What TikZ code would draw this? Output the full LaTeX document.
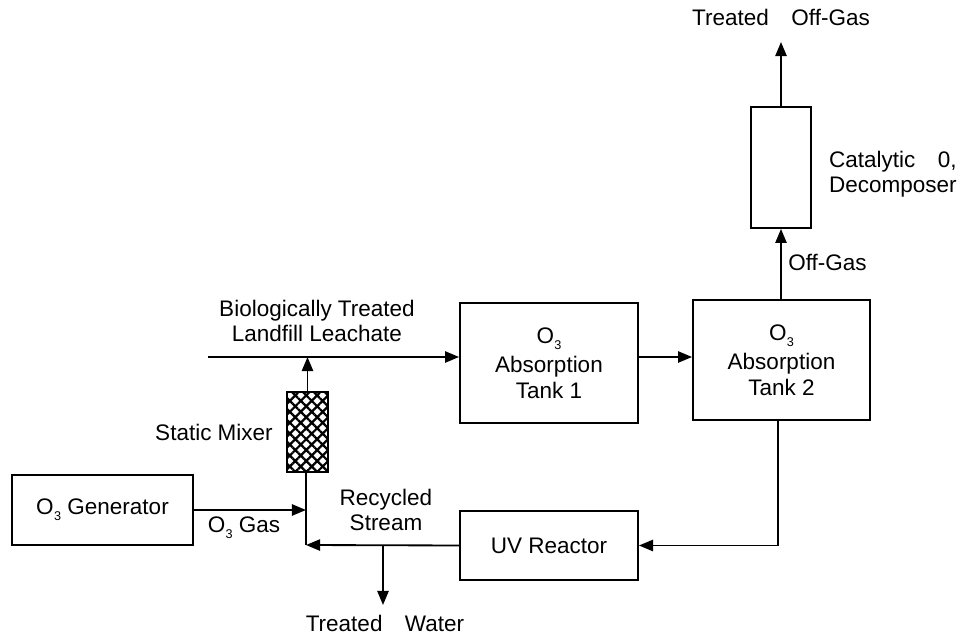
\documentclass[tikz,border=0pt]{standalone}
\usepackage{fontspec}
\setmainfont{Liberation Sans}
\usetikzlibrary{arrows.meta,patterns.meta,positioning}

\newcommand{\Othree}{O\kern0.3pt\raisebox{-0.5ex}{\fontsize{9}{9}\selectfont 3}}

\tikzset{
  unit/.style={draw, line width=1.3pt, align=center, inner sep=0pt},
  flow/.style={line width=1.3pt, -{Triangle[length=10pt,width=8pt]}},
  pipe/.style={line width=1.3pt},
  lbl/.style={align=center, inner sep=0pt}
}

\begin{document}
\begin{tikzpicture}[x=0.025cm,y=-0.025cm,
    every node/.style={font=\fontsize{16}{18}\selectfont}]
    \useasboundingbox (0,0) rectangle (961,636);

    % units
    \node[unit, minimum width=4.525cm, minimum height=1.75cm] (gen) at (102.5,510) {\Othree\ Generator};
    \node[unit, minimum width=1.025cm, minimum height=2cm,
          pattern={Hatch[angle=45,distance=5.5pt,line width=1.6pt]}] (mixer) at (307.5,432) {};
    \node[unit, minimum width=4.45cm, minimum height=3cm] (tank1) at (549,363) {\Othree\\[3pt]Absorption\\Tank 1};
    \node[unit, minimum width=4.425cm, minimum height=3cm] (tank2) at (781.5,360) {\Othree\\[3pt]Absorption\\Tank 2};
    \node[unit, minimum width=1.5cm, minimum height=3.025cm] (decomp) at (781,167.5) {};
    \node[unit, minimum width=4.45cm, minimum height=1.725cm] (uv) at (549,545.5) {UV Reactor};

    \coordinate (feed) at (208,357);
    \coordinate (join) at (307.5,357);
    \coordinate (gasin) at (306,510);
    \coordinate (mix) at (306,545);
    \coordinate (tap) at (383,545);
    \coordinate (water) at (383,605);
    \coordinate (vent) at (781,42);

    % streams
    \draw[flow] (feed) -- (feed -| tank1.west);
    \draw[flow] (mixer.north) -- (join);
    \draw[flow] (feed -| tank1.east) -- (feed -| tank2.west);
    \draw[flow] (tank2.north -| decomp.south) -- (decomp.south);
    \draw[flow] (decomp.north) -- (vent);
    \draw[flow] (tank2.south -| 778,0) |- (uv.east);
    \draw[flow] (uv.west) -- (mix);
    \draw[pipe] (mix) -- (mixer.south -| mix);
    \draw[flow] (gen.east) -- (gasin);
    \draw[flow] (tap) -- (water);

    % labels
    \node[lbl] (leach) at (317,321) {Biologically Treated\\Landfill Leachate};
    \node[lbl] (mixlbl) at (214,432) {Static Mixer};
    \node[lbl] (gaslbl) at (244,528) {\Othree\ Gas};
    \node[lbl] (recyc) at (386,510) {Recycled\\Stream};
    \node[lbl] (waterlbl) at (385,623) {Treated\quad Water};
    \node[lbl, anchor=west] (offgas) at (788,262) {Off-Gas};
    \node[lbl, align=right, anchor=east] (catlbl) at (957,174) {Catalytic\quad 0,\\Decomposer};
    \node[lbl] (ventlbl) at (781,17) {Treated\quad Off-Gas};

  \end{tikzpicture}
\end{document}
